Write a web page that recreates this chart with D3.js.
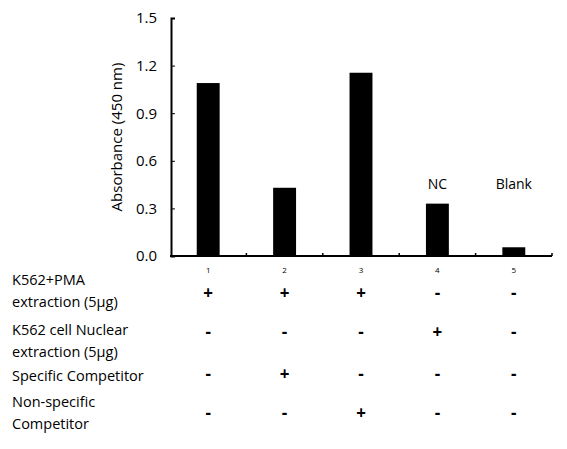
<!DOCTYPE html>
<html><head><meta charset="utf-8">
<script src="https://cdn.jsdelivr.net/npm/d3@7"></script>
<style>body{margin:0;background:#fff}text{font-family:"Open Sans","DejaVu Sans",sans-serif}</style>
</head><body><div id="chart"></div>
<script>
const lanes = ["1", "2", "3", "4", "5"]
const absorbance = [1.09, 0.43, 1.155, 0.33, 0.055]
const barNotes = ["", "", "", "NC", "Blank"]
const yTicks = [0, 0.3, 0.6, 0.9, 1.2, 1.5]
const rowLabels = [["K562+PMA", "extraction (5μg)"], ["K562 cell Nuclear", "extraction (5μg)"], ["Specific Competitor"], ["Non-specific", "Competitor"]]
const rowSigns = [["+", "+", "+", "-", "-"], ["-", "-", "-", "+", "-"], ["-", "+", "-", "-", "-"], ["-", "-", "+", "-", "-"]]

const svg = d3.select("#chart").append("svg").attr("width", 567).attr("height", 449)

const x = d3.scaleBand().domain(lanes).range([170, 552]).paddingInner(0.7).paddingOuter(0.35)
const y = d3.scaleLinear().domain([0, 1.5]).range([256, 18])

// bars
svg.selectAll("rect.bar").data(absorbance).enter().append("rect")
  .attr("x", (d, i) => x(lanes[i]))
  .attr("y", d => y(d))
  .attr("width", x.bandwidth())
  .attr("height", d => y(0) - y(d))
  .attr("fill", "#000")

svg.selectAll("text.note").data(barNotes).enter().append("text")
  .attr("x", (d, i) => x(lanes[i]) + x.bandwidth() / 2)
  .attr("y", 189)
  .attr("text-anchor", "middle").attr("font-size", 14).text(d => d)

// y axis
const yAxis = svg.append("g").attr("transform", "translate(171,0)")
  .call(d3.axisLeft(y).tickValues(yTicks).tickFormat(d3.format(".1f")).tickSize(-4).tickPadding(14))
yAxis.selectAll("text").attr("font-size", 15).attr("fill", "#000")
yAxis.select(".domain").attr("stroke-width", 2)

svg.append("text").attr("transform", "rotate(-90)")
  .attr("x", -137).attr("y", 122).attr("text-anchor", "middle")
  .attr("font-size", 15).text("Absorbance (450 nm)")

// x axis
const bandStep = x.step()
const xAxis = svg.append("g").attr("transform", `translate(0,${y(0)})`)
xAxis.append("line").attr("x1", 170).attr("x2", 552).attr("stroke", "#000").attr("stroke-width", 2)
xAxis.selectAll("line.tick").data(lanes).enter().append("line")
  .attr("x1", d => x(d) + x.bandwidth() / 2 + bandStep / 2)
  .attr("x2", d => x(d) + x.bandwidth() / 2 + bandStep / 2)
  .attr("y1", 0).attr("y2", -3).attr("stroke", "#000").attr("stroke-width", 1.5)
xAxis.selectAll("text").data(lanes).enter().append("text")
  .attr("x", d => x(d) + x.bandwidth() / 2).attr("y", 17)
  .attr("text-anchor", "middle").attr("font-size", 8).text(d => d)

// condition table
const labelY = [[285, 307], [335, 357], [381], [407, 429]]
const signY = [299, 338, 380, 419]
rowLabels.forEach((lines, r) => {
  lines.forEach((t, k) => {
    svg.append("text").attr("x", 12).attr("y", labelY[r][k])
      .attr("font-size", 14.5).text(t)
  })
  svg.selectAll(null).data(rowSigns[r]).enter().append("text")
    .attr("x", (d, i) => x(lanes[i]) + x.bandwidth() / 2)
    .attr("y", signY[r])
    .attr("text-anchor", "middle").attr("font-size", 17).attr("font-weight", "bold")
    .text(d => d)
})
</script></body></html>
